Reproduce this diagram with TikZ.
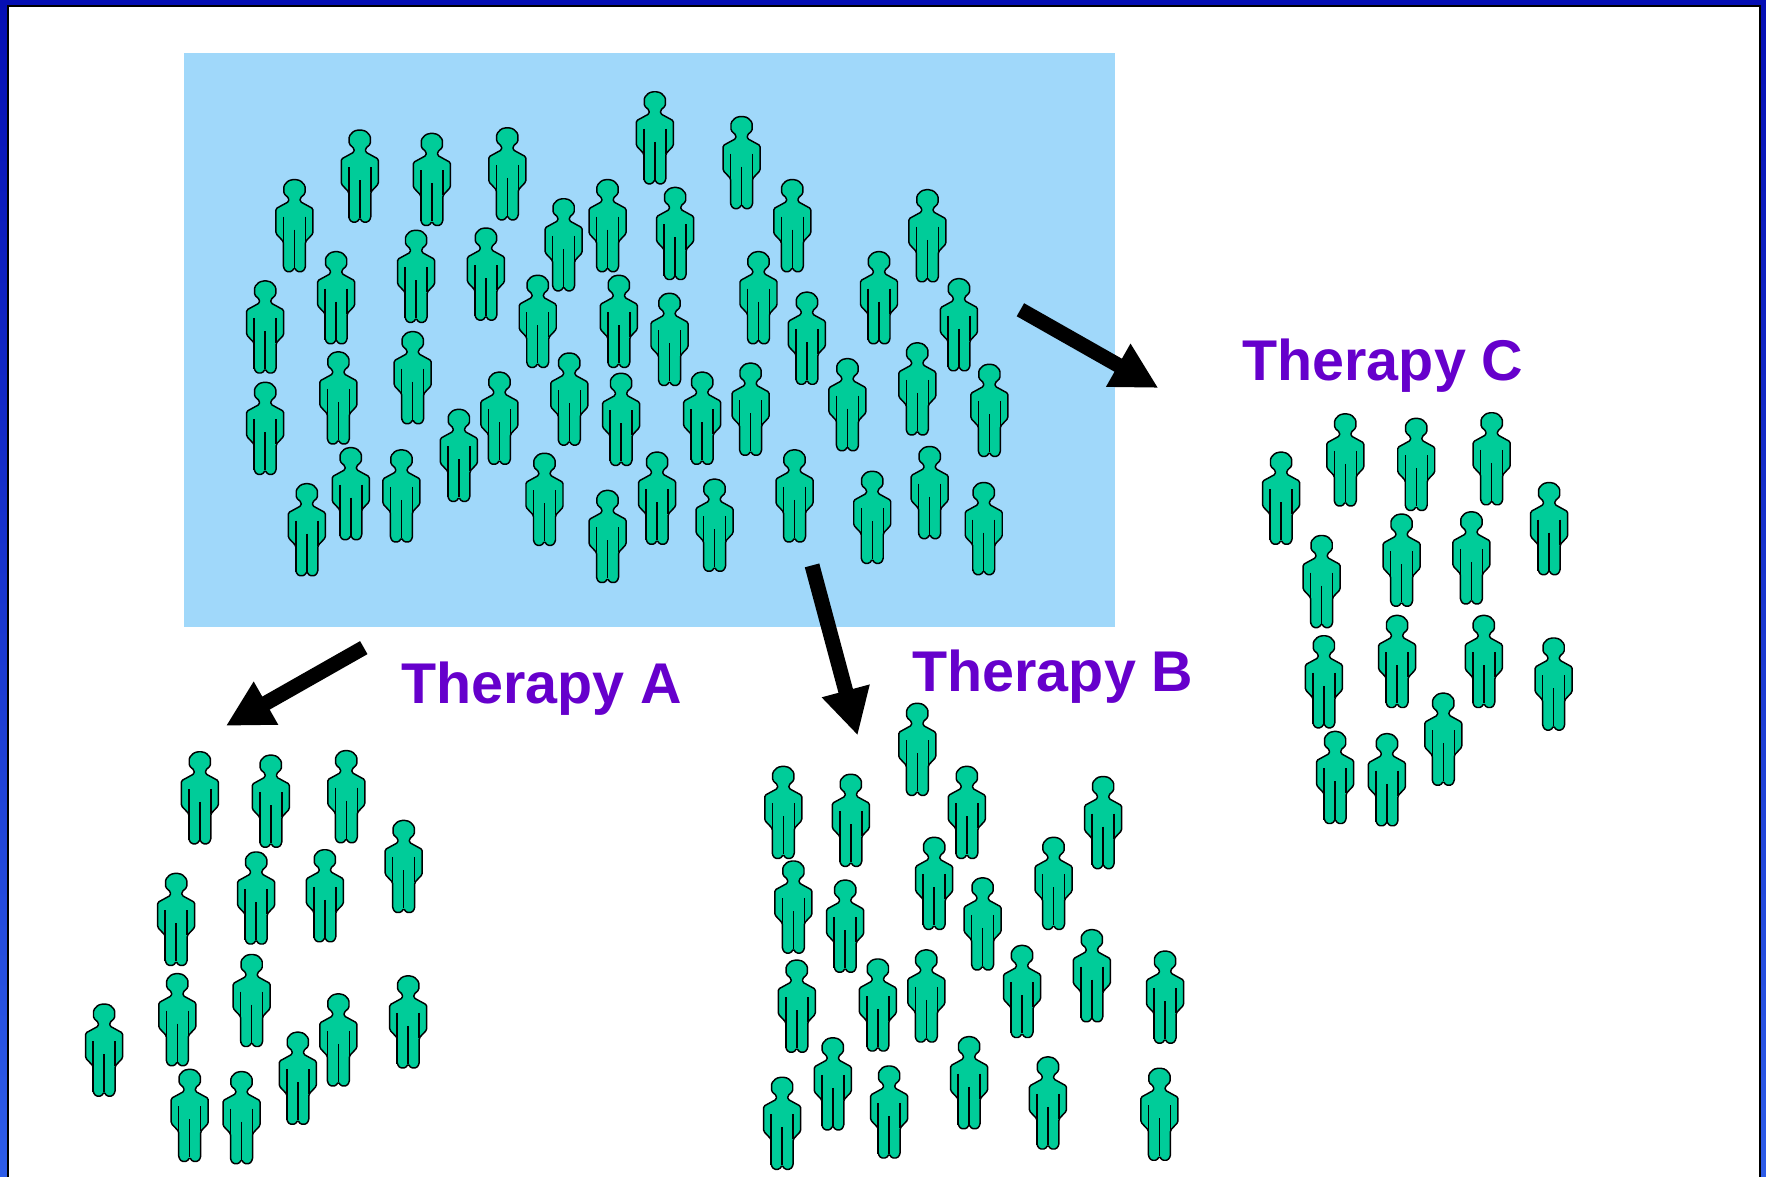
\documentclass[tikz,border=0pt]{standalone}
\usepackage{fontspec}
\setmainfont{Liberation Sans}
\usetikzlibrary{arrows.meta}
\definecolor{skyback}{RGB}{160,216,250}
\definecolor{figgreen}{RGB}{0,204,153}
\definecolor{labelpurple}{RGB}{102,0,204}
\definecolor{frametop}{RGB}{5,15,180}
\definecolor{framebottom}{RGB}{45,92,232}
\tikzset{
  person/.pic={
    \draw[fill=figgreen,line width=1.3pt,line join=round,rounded corners=1.2pt,scale=.888,shift={(.5,-.6)}]
      (-5.7,18.5) -- (-10.6,14) -- (-10.6,6) -- (-6,1) -- (0,-.3) -- (6,1) -- (10.6,6) -- (10.6,14) -- (5.7,18.5)
      -- (5.7,22) -- (18.5,29) -- (18.5,54) -- (11,62) -- (11,88) -- (8.3,92) -- (2.7,92) -- (0,88)
      -- (-2.7,92) -- (-8.3,92) -- (-11,88) -- (-11,62) -- (-18.5,54) -- (-18.5,29) -- (-5.7,22) -- cycle;
    \draw[line width=1.3pt,scale=.888,shift={(.5,-.6)}] (-11,37) -- (-11,88) (11,37) -- (11,62) (0,50) -- (0,88);
  },
  therapylabel/.style={anchor=base west,text=labelpurple,font=\fontsize{51}{60}\selectfont\bfseries},
  bigarrow/.style={-{Triangle[length=41pt,width=41pt]},line width=13.3pt},
}
\begin{document}
\begin{tikzpicture}[x=1pt,y=-1pt]
        \useasboundingbox (0,0) rectangle (1568,1044.15);
        \clip (0,0) rectangle (1568,1044.15);
        \shade[top color=frametop,bottom color=framebottom] (0,0) rectangle (1568,1044.15);
        \draw[fill=white,line width=1.8pt] (7,5.2) rectangle (1562.5,1060);
        \fill[skyback] (163,47) rectangle (990,556.5);
        % whole population
        \foreach \x/\y in {261/160,319/116,383/119,450/114,581/82,658/104,703/160,823/169,539/160,500/177,599/167,
            298/224,369/205,431/203,477/245,549/245,594/261,673/224,716/260,780/224,851/248,235/250,
            235/340,300/313,366/295,407/364,443/331,505/314,551/332,623/331,666/323,752/319,814/305,878/324,
            311/398,356/400,272/430,483/403,539/436,583/402,634/426,705/400,774/419,825/397,873/429}
            \pic at (\x,\y) {person};
        % therapy A
        \foreach \x/\y in {177/668,240/671,307/667,358/729,156/776,227/757,288/755,157/865,223/848,92/892,
            300/883,362/867,168/950,214/952,264/917}
            \pic at (\x,\y) {person};
        % therapy B
        \foreach \x/\y in {814/625,695/681,755/688,858/681,979/690,704/765,750/782,829/744,872/780,935/744,707/853,
            779/852,822/844,907/840,969/826,1034/845,739/922,694/957,789/947,860/921,930/939,1029/949}
            \pic at (\x,\y) {person};
        % therapy C
        \foreach \x/\y in {1137/402,1194/368,1257/372,1324/367,1375/429,1173/476,1244/457,1306/455,
            1175/565,1240/547,1317/547,1379/567,1185/650,1231/652,1281/616}
            \pic at (\x,\y) {person};
        \node[therapylabel,inner sep=0pt] (therapyA) at (356,625) {Therapy A};
        \node[therapylabel,inner sep=0pt] (therapyB) at (810,614) {Therapy B};
        \node[therapylabel,inner sep=0pt] (therapyC) at (1103,338) {Therapy C};
        \coordinate (startA) at (323,575);
        \coordinate (endA) at (200.5,644.5);
        \coordinate (startB) at (721,502);
        \coordinate (endB) at (761.5,653);
        \coordinate (startC) at (906,275);
        \coordinate (endC) at (1028.5,344.5);
        \draw[bigarrow] (startA) -- (endA);
        \draw[bigarrow] (startB) -- (endB);
        \draw[bigarrow] (startC) -- (endC);
    \end{tikzpicture}
\end{document}
